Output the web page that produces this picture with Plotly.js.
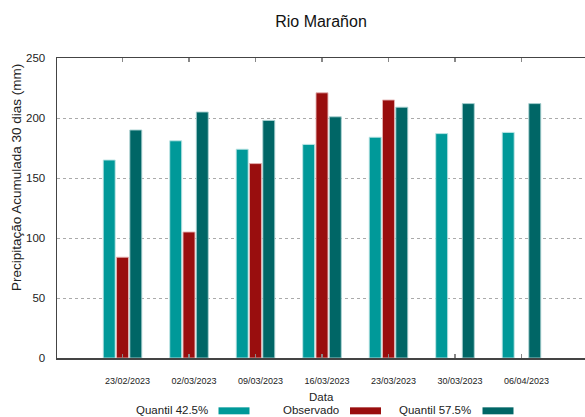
<!DOCTYPE html>
<html>
<head>
<meta charset="utf-8">
<script src="https://cdn.plot.ly/plotly-3.0.1.min.js"></script>
<style>html,body{margin:0;padding:0;background:#fff;}#chart{width:585px;height:417px;}</style>
</head>
<body>
<div id="chart"></div>
<script>
// ---- data ----
const dates = ["23/02/2023","02/03/2023","09/03/2023","16/03/2023","23/03/2023","30/03/2023","06/04/2023"];
const q425 = [165, 181, 174, 178, 184, 187, 188];
const observado = [84, 105, 162, 221, 215, null, null];
const q575 = [190, 205, 198, 201, 209, 212, 212];
const seriesNames = ["Quantil 42.5%", "Observado", "Quantil 57.5%"];
const seriesColors = ["#009999", "#990e0e", "#006666"];
const edgeColors = ["rgba(190,230,230,0.9)", "rgba(230,180,180,0.9)", "rgba(170,210,210,0.9)"];

const W = 585, H = 417;
const M = {l: 57, r: 0, t: 57.5, b: 58.5};
const pw = W - M.l - M.r, ph = H - M.t - M.b;
const px = x => (x - M.l) / pw;
const py = y => (H - M.b - y) / ph;

const idx = dates.map((_, i) => i);
const allSeries = [q425, observado, q575];
const traces = allSeries.map((vals, k) => ({
  type: 'bar',
  x: idx,
  y: vals,
  name: seriesNames[k],
  marker: {color: seriesColors[k], line: {color: edgeColors[k], width: 1}},
  showlegend: false,
  hoverinfo: 'y'
}));

const font = "Liberation Sans, Arial, sans-serif";
const annotations = [
  {text: "Data", xref: 'paper', yref: 'paper', x: px(321), y: py(397.5), showarrow: false,
   xanchor: 'center', yanchor: 'middle', font: {family: font, size: 11.5, color: '#222'}},
  {text: "Precipitação Acumulada 30 dias (mm)", xref: 'paper', yref: 'paper', x: px(16), y: py(178),
   showarrow: false, textangle: -90, xanchor: 'center', yanchor: 'middle',
   font: {family: font, size: 13.5, color: '#222'}}
];
const legendTextRight = [209.5, 341, 473];
const swatchLeft = [218.5, 350, 482.5];
const shapes = [];
seriesNames.forEach((n, k) => {
  annotations.push({text: n, xref: 'paper', yref: 'paper', x: px(legendTextRight[k]), y: py(411),
    showarrow: false, xanchor: 'right', yanchor: 'middle', xshift: 0,
    font: {family: font, size: 11.5, color: '#222'}});
  shapes.push({type: 'rect', xref: 'paper', yref: 'paper', x0: px(swatchLeft[k]), x1: px(swatchLeft[k] + 31),
    y0: py(415), y1: py(408), fillcolor: seriesColors[k], line: {width: 0}});
});

const layout = {
  width: W, height: H,
  margin: M,
  paper_bgcolor: '#fff', plot_bgcolor: '#fff',
  font: {family: font, color: '#222'},
  title: {text: "Rio Marañon", x: 0.5, xref: 'paper', y: 1 - 21 / H, yanchor: 'middle',
    font: {family: font, size: 16, color: '#111'}},
  barmode: 'group',
  bargap: 0.4,
  bargroupgap: 0.1,
  xaxis: {
    range: [-0.985, 6.955],
    tickvals: idx, ticktext: dates,
    ticks: 'inside', ticklen: 4, tickcolor: '#888', tickwidth: 1.5,
    showline: true, linecolor: '#444', linewidth: 1.5, mirror: 'ticks',
    showgrid: false, zeroline: false,
    tickfont: {family: font, size: 9, color: '#222'},
    ticklabelshift: 5, ticklabelstandoff: 14
  },
  yaxis: {
    range: [0, 250],
    tickvals: [0, 50, 100, 150, 200, 250],
    ticks: '', showline: true, linecolor: '#444', linewidth: 1.5,
    showgrid: true, gridcolor: '#aaa', griddash: 'dot', gridwidth: 1,
    zeroline: false,
    tickfont: {family: font, size: 11.5, color: '#222'},
    ticklabelstandoff: 8
  },
  annotations: annotations,
  shapes: shapes
};

Plotly.newPlot('chart', traces, layout, {displayModeBar: false, staticPlot: true});
</script>
</body>
</html>
